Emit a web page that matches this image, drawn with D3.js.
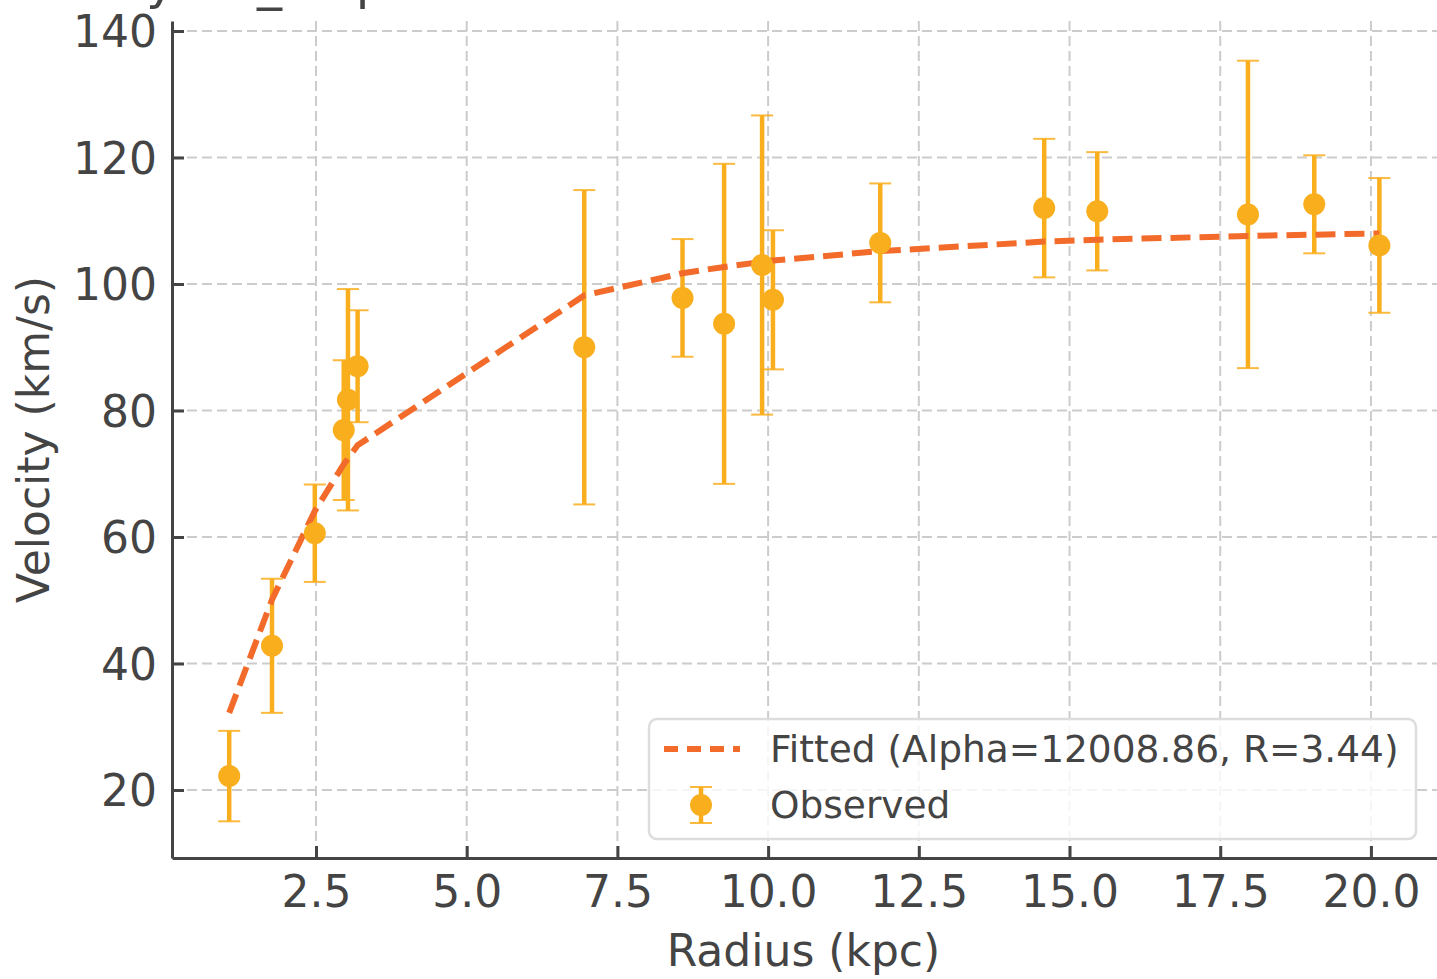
<!DOCTYPE html>
<html>
<head>
<meta charset="utf-8">
<script src="https://cdn.jsdelivr.net/npm/d3@7"></script>
<style>
  html, body { margin: 0; padding: 0; background: #fff; }
  svg { display: block; font-family: "DejaVu Sans", sans-serif; }
</style>
</head>
<body>
<svg id="chart" width="1437" height="979"></svg>
<script>
// ---- data ----
const radius   = [1.06, 1.77, 2.48, 2.96, 3.03, 3.19, 6.95, 8.58, 9.27, 9.90, 10.08, 11.86, 14.58, 15.46, 17.96, 19.06, 20.14];
const velocity = [22.2, 42.8, 60.6, 76.9, 81.7, 87.0, 90.0, 97.8, 93.7, 103.0, 97.5, 106.5, 112.0, 111.5, 111.0, 112.6, 106.1];
const velErr   = [7.15, 10.6, 7.7, 11.05, 17.5, 8.85, 24.85, 9.3, 25.3, 23.65, 11.0, 9.4, 10.95, 9.35, 24.3, 7.75, 10.65];
const fitted   = [32.2, 50.1, 64.1, 71.5, 72.4, 74.5, 98.2, 101.7, 102.7, 103.5, 103.7, 105.2, 106.7, 107.0, 107.6, 107.8, 108.0];
const xTicks   = [2.5, 5.0, 7.5, 10.0, 12.5, 15.0, 17.5, 20.0];
const yTicks   = [20, 40, 60, 80, 100, 120, 140];
const titleText = "Rotation Curve of Galaxy KK_2 spiral";
const xLabel = "Radius (kpc)";
const yLabel = "Velocity (km/s)";
const fitLabel = "Fitted (Alpha=12008.86, R=3.44)";
const obsLabel = "Observed";

// ---- styles ----
const cPoint = "#F9AE1E";
const cFit = "#F26B2A";
const cText = "#444444";
const cGrid = "#cccccc";

const svg = d3.select("#chart");
const L = 172, R = 1437, T = 21, B = 858;

const x = d3.scaleLinear().domain([0.111, 21.096]).range([L, R]);
const y = d3.scaleLinear().domain([9.25, 141.58]).range([B, T]);

// grid
const grid = svg.append("g");
grid.selectAll("line.gx").data(xTicks).enter().append("line")
  .attr("x1", d => x(d)).attr("x2", d => x(d)).attr("y1", T).attr("y2", B)
  .attr("stroke", cGrid).attr("stroke-width", 2).attr("stroke-dasharray", "10,5");
grid.selectAll("line.gy").data(yTicks).enter().append("line")
  .attr("x1", L).attr("x2", R).attr("y1", d => y(d)).attr("y2", d => y(d))
  .attr("stroke", cGrid).attr("stroke-width", 2).attr("stroke-dasharray", "10,5");

// axes
const xAxis = d3.axisBottom(x).tickValues(xTicks).tickFormat(d3.format(".1f")).tickSizeInner(-12).tickSizeOuter(0).tickPadding(18);
const yAxis = d3.axisLeft(y).tickValues(yTicks).tickFormat(d3.format("d")).tickSizeInner(-12).tickSizeOuter(0).tickPadding(15);

const gx = svg.append("g").attr("transform", `translate(0,${B})`).call(xAxis);
const gy = svg.append("g").attr("transform", `translate(${L},0)`).call(yAxis);
[gx, gy].forEach(g => {
  g.select(".domain").attr("stroke", cText).attr("stroke-width", 3);
  g.selectAll(".tick line").attr("stroke", cText).attr("stroke-width", 3);
  g.selectAll(".tick text").attr("fill", cText).attr("font-size", 44).attr("font-family", "DejaVu Sans");
});
gx.selectAll(".tick text").attr("dy", "0.71em");
gy.selectAll(".tick text").attr("dy", "0.36em");

// error bars
const idx = d3.range(radius.length);
const eb = svg.append("g");
eb.selectAll("line.bar").data(idx).enter().append("line")
  .attr("x1", i => x(radius[i])).attr("x2", i => x(radius[i]))
  .attr("y1", i => y(velocity[i] - velErr[i])).attr("y2", i => y(velocity[i] + velErr[i]))
  .attr("stroke", cPoint).attr("stroke-width", 4.5);
eb.selectAll("line.capT").data(idx).enter().append("line")
  .attr("x1", i => x(radius[i]) - 11).attr("x2", i => x(radius[i]) + 11)
  .attr("y1", i => y(velocity[i] + velErr[i])).attr("y2", i => y(velocity[i] + velErr[i]))
  .attr("stroke", cPoint).attr("stroke-width", 2).attr("stroke-opacity", 0.85);
eb.selectAll("line.capB").data(idx).enter().append("line")
  .attr("x1", i => x(radius[i]) - 11).attr("x2", i => x(radius[i]) + 11)
  .attr("y1", i => y(velocity[i] - velErr[i])).attr("y2", i => y(velocity[i] - velErr[i]))
  .attr("stroke", cPoint).attr("stroke-width", 2).attr("stroke-opacity", 0.85);

// fitted line
const line = d3.line().x(i => x(radius[i])).y(i => y(fitted[i]));
svg.append("path").datum(idx).attr("d", line)
  .attr("fill", "none").attr("stroke", cFit).attr("stroke-width", 6)
  .attr("stroke-dasharray", "20,9");

// markers
svg.append("g").selectAll("circle").data(idx).enter().append("circle")
  .attr("cx", i => x(radius[i])).attr("cy", i => y(velocity[i])).attr("r", 11)
  .attr("fill", cPoint);

// axis labels
svg.append("text").attr("x", (L + R) / 2 - 1).attr("y", 966).attr("text-anchor", "middle")
  .attr("font-size", 44).attr("fill", cText).text(xLabel);
svg.append("text").attr("transform", `translate(49,${(T + B) / 2}) rotate(-90)`).attr("text-anchor", "middle")
  .attr("font-size", 44).attr("fill", cText).text(yLabel);

// title (mostly cropped above the picture; only descenders show)
const title = svg.append("text").attr("x", 0).attr("y", -1.5).attr("font-size", 50).attr("fill", cText).text(titleText);
try {
  const yi = titleText.indexOf("y ");
  const p = title.node().getStartPositionOfChar(yi);
  title.attr("x", 146 - p.x);
} catch (e) {}

// legend
const lg = svg.append("g");
lg.append("rect").attr("x", 649).attr("y", 719).attr("width", 767).attr("height", 120)
  .attr("rx", 8).attr("ry", 8).attr("fill", "rgba(255,255,255,0.8)")
  .attr("stroke", "#dddddd").attr("stroke-width", 2.5);
lg.append("line").attr("x1", 664).attr("x2", 740).attr("y1", 749).attr("y2", 749)
  .attr("stroke", cFit).attr("stroke-width", 6).attr("stroke-dasharray", "14,9");
lg.append("text").attr("x", 770).attr("y", 762).attr("font-size", 37.5).attr("fill", cText).text(fitLabel);
lg.append("line").attr("x1", 701).attr("x2", 701).attr("y1", 787).attr("y2", 823)
  .attr("stroke", cPoint).attr("stroke-width", 4.5);
lg.append("line").attr("x1", 690).attr("x2", 712).attr("y1", 787).attr("y2", 787).attr("stroke", cPoint).attr("stroke-width", 2).attr("stroke-opacity", 0.85);
lg.append("line").attr("x1", 690).attr("x2", 712).attr("y1", 823).attr("y2", 823).attr("stroke", cPoint).attr("stroke-width", 2).attr("stroke-opacity", 0.85);
lg.append("circle").attr("cx", 701).attr("cy", 805).attr("r", 11).attr("fill", cPoint);
lg.append("text").attr("x", 770).attr("y", 818).attr("font-size", 37.5).attr("fill", cText).text(obsLabel);
</script>
</body>
</html>
